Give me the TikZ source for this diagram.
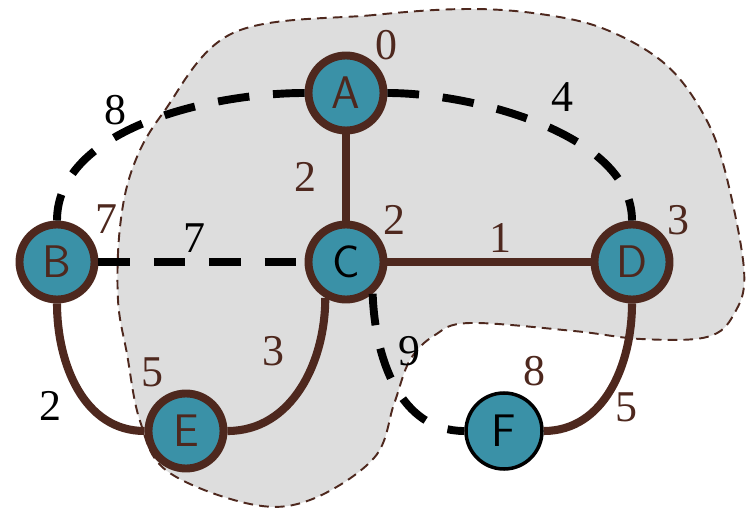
\documentclass[tikz,border=0pt]{standalone}
\usepackage{fontspec}
\setmainfont{Liberation Serif}
\definecolor{c1}{HTML}{3A91A7}
\definecolor{c2}{HTML}{4E281E}
\definecolor{c3}{HTML}{DDDDDD}
\begin{document}
\begin{tikzpicture}[vertex/.style={circle,fill=c1,draw=c2,line width=4.5pt,minimum size=1.5cm,inner sep=0pt,text=c2,font=\fontsize{26}{30}\selectfont\sffamily},
tree/.style={draw=c2,line width=4.6pt},
nontree/.style={draw=black,line width=4.5pt,dash pattern=on 18pt off 13.5pt},
lbl/.style={font=\fontsize{25}{30}\selectfont,text=c2},
wgt/.style={font=\fontsize{25}{30}\selectfont,text=black}]
\useasboundingbox (0,0) rectangle (14.96,10.16);
\fill[c3,draw=c2,line width=1.1pt,dash pattern=on 5.5pt off 3.5pt] plot[smooth cycle,tension=0.6] coordinates {
(9.42,9.98) (7.48,9.86) (4.66,9.50) (3.26,7.90) (2.66,6.82) (2.40,5.62) (2.36,4.16) (2.54,3.08) (2.80,1.74) (3.34,0.74) (5.00,0.08) (6.20,0.16) (7.48,1.00) (7.88,2.08) (8.20,2.96) (8.70,3.46) (9.40,3.70) (11.48,3.54) (12.82,3.38) (14.14,3.42) (14.68,3.88) (14.88,4.76) (14.48,6.82) (14.02,7.96) (13.28,8.90) (12.14,9.56) (10.94,9.86)};

\node[vertex] (A) at (6.92, 8.30) {A};
\node[vertex] (B) at (1.14, 4.92) {B};
\node[vertex,text=black] (C) at (6.92, 4.92) {C};
\node[vertex] (D) at (12.64, 4.92) {D};
\node[vertex] (E) at (3.72, 1.54) {E};
\node[vertex,draw=black,line width=2pt,minimum size=1.52cm,text=black] (F) at (10.08, 1.54) {F};

\draw[tree] (A) -- (C);
\draw[tree] (C) -- (D);
\draw[tree] (B.south) to[out=-90,in=180] (E.west);
\draw[tree] (C.-120) to[out=-90,in=0] (E.east);
\draw[tree] (D.south) to[out=-90,in=0] (F.east);
\draw[nontree] (A.west) to[out=180,in=90,looseness=0.85] (B.north);
\draw[nontree] (A.east) to[out=0,in=90,looseness=0.8] (D.north);
\draw[nontree] (B) -- (C);
\draw[nontree] (C.-50) to[out=-88,in=180] (F.west);

\node[lbl] (dA) at (7.72, 9.26) {0};
\node[lbl] (dB) at (2.12, 5.78) {7};
\node[lbl] (dC) at (7.88, 5.76) {2};
\node[lbl] (dD) at (13.56, 5.76) {3};
\node[lbl] (dE) at (3.04, 2.72) {5};
\node[lbl] (dF) at (10.68, 2.74) {8};
\node[lbl] (wAC) at (6.10, 6.62) {2};
\node[lbl] (wCD) at (10.00, 5.40) {1};
\node[lbl] (wCE) at (5.46, 3.14) {3};
\node[lbl] (wDF) at (12.52, 2.02) {5};
\node[wgt] (wAB) at (2.30, 7.96) {8};
\node[wgt] (wAD) at (11.24, 8.22) {4};
\node[wgt] (wBC) at (3.88, 5.40) {7};
\node[wgt] (wCF) at (8.18, 3.14) {9};
\node[wgt] (wBE) at (1.00, 2.04) {2};
\end{tikzpicture}
\end{document}
